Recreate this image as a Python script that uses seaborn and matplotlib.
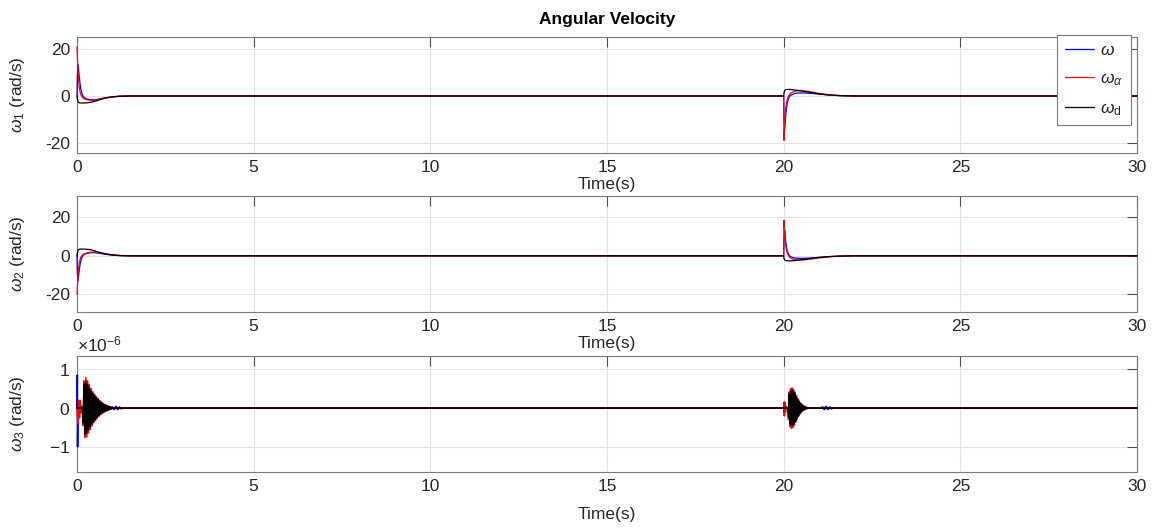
import numpy as np
import pandas as pd
import matplotlib
matplotlib.use("Agg")
import matplotlib.pyplot as plt
import seaborn as sns
from matplotlib.ticker import ScalarFormatter

# --- Data (time in s) ---

# panels 1 and 2 share one time grid
t_grid = [0, 0.01, 0.03, 0.06, 0.1, 0.15, 0.2, 0.3, 0.4, 0.5, 0.6, 0.8, 1.0, 1.2, 1.5,
          20.0, 20.01, 20.03, 20.06, 20.1, 20.15, 20.2, 20.3, 20.4, 20.6, 20.8, 21.0, 21.3, 21.6, 22.0, 30]

w1_omega = [0, 9, 13.5, 9, 3.5, 0.5, -0.7, -1.4, -1.6, -1.6, -1.4, -0.8, -0.35, -0.1, 0,
            0, -10, -14, -8, -3, -0.5, 0.3, 1.0, 1.3, 1.3, 1.1, 0.8, 0.4, 0.15, 0, 0]
w1_alpha = [21, 17, 10, 4, 0.8, -0.6, -1.2, -1.7, -1.9, -1.8, -1.5, -0.8, -0.35, -0.1, 0,
            0, -19, -12, -5, -1.5, 0.3, 1.2, 2.0, 2.3, 2.2, 1.7, 1.1, 0.5, 0.15, 0, 0]
w1_d = [0, -1.5, -2.6, -2.9, -3.0, -3.0, -3.0, -2.9, -2.7, -2.3, -1.8, -0.9, -0.4, -0.15, 0,
        0, 1.5, 2.4, 2.7, 2.8, 2.8, 2.8, 2.6, 2.4, 1.9, 1.4, 0.9, 0.4, 0.15, 0, 0]

w2_omega = [0, -9, -13, -8, -3, -0.3, 0.7, 1.4, 1.6, 1.6, 1.4, 0.8, 0.35, 0.1, 0,
            0, 10, 13, 7, 2.5, 0.3, -0.5, -1.1, -1.3, -1.3, -1.1, -0.8, -0.4, -0.15, 0, 0]
w2_alpha = [-20, -16, -10, -4, -1, 0.4, 1.0, 1.6, 1.9, 2.0, 1.8, 1.1, 0.5, 0.2, 0,
            0, 18.5, 11, 5, 1.5, -0.3, -1.2, -1.9, -2.2, -2.1, -1.6, -1.1, -0.5, -0.15, 0, 0]
w2_d = [0, 1.8, 3.0, 3.4, 3.5, 3.5, 3.5, 3.4, 3.1, 2.6, 2.0, 1.0, 0.45, 0.15, 0,
        0, -1.4, -2.2, -2.5, -2.6, -2.6, -2.6, -2.5, -2.3, -1.8, -1.3, -0.85, -0.4, -0.15, 0, 0]

# panel 3 (values in 1e-6 rad/s)
burst0_t = [0.15, 0.175, 0.2, 0.225, 0.25, 0.275, 0.3, 0.325, 0.35, 0.375, 0.4, 0.425,
            0.45, 0.475, 0.5, 0.525, 0.55, 0.575, 0.6, 0.625, 0.65, 0.675, 0.7, 0.725,
            0.75, 0.775, 0.8, 0.825, 0.85, 0.875, 0.9, 0.925, 0.95, 0.975, 1.0]
burst20_t = [20.12, 20.14, 20.16, 20.18, 20.2, 20.22, 20.24, 20.26, 20.28, 20.3, 20.32,
             20.34, 20.36, 20.38, 20.4, 20.42, 20.44, 20.46, 20.48, 20.5, 20.52, 20.54,
             20.56, 20.58, 20.6, 20.62, 20.64, 20.66, 20.68]

red_burst0 = [0.0, -0.45, 0.7, -0.76, 0.78, -0.74, 0.7, -0.64, 0.6, -0.55, 0.5, -0.46,
              0.42, -0.38, 0.35, -0.32, 0.29, -0.26, 0.24, -0.21, 0.19, -0.17, 0.15, -0.13,
              0.11, -0.10, 0.09, -0.08, 0.07, -0.06, 0.05, -0.04, 0.03, -0.02, 0.0]
blk_burst0 = [0.0, -0.38, 0.62, -0.67, 0.68, -0.65, 0.61, -0.56, 0.52, -0.48, 0.44, -0.41,
              0.38, -0.35, 0.32, -0.29, 0.27, -0.24, 0.22, -0.19, 0.17, -0.15, 0.14, -0.12,
              0.1, -0.09, 0.08, -0.07, 0.06, -0.05, 0.04, -0.035, 0.03, -0.02, 0.0]
red_burst20 = [0.0, -0.3, 0.42, -0.47, 0.5, -0.52, 0.52, -0.5, 0.47, -0.44, 0.4, -0.36,
               0.32, -0.28, 0.24, -0.21, 0.18, -0.15, 0.13, -0.11, 0.09, -0.07, 0.06,
               -0.05, 0.04, -0.03, 0.02, -0.01, 0.0]
blk_burst20 = [0.0, -0.24, 0.36, -0.41, 0.44, -0.45, 0.45, -0.43, 0.41, -0.38, 0.35, -0.32,
               0.28, -0.25, 0.21, -0.19, 0.16, -0.13, 0.11, -0.09, 0.08, -0.06, 0.05,
               -0.04, 0.03, -0.025, 0.015, -0.01, 0.0]

t3_alpha = [0, 0.03, 0.05, 0.07, 0.09, 0.11, 0.13] + burst0_t + \
           [19.99, 20.0, 20.01, 20.02, 20.03, 20.05, 20.07, 20.1] + burst20_t + [30]
w3_alpha = [0, -0.4, 0.2, -0.25, 0.2, -0.12, 0.05] + red_burst0 + \
           [0, 0, 0.15, -0.2, 0.15, -0.1, 0.05, 0] + red_burst20 + [0]
t3_d = [0] + burst0_t + [19.99] + burst20_t + [30]
w3_d = [0] + blk_burst0 + [0] + blk_burst20 + [0]
t3_omega = [0, 0.008, 0.016, 0.03, 0.95, 1.0, 1.05, 1.1, 1.15, 1.2, 1.25, 1.3,
            20.0, 20.01, 20.02, 20.03,
            21.05, 21.1, 21.15, 21.2, 21.25, 21.3, 21.35, 21.4, 30]
w3_omega = [0, 0.85, -1.0, 0, 0, 0.03, -0.04, 0.045, -0.04, 0.03, -0.02, 0,
            0, -0.12, 0.1, 0,
            0, 0.03, -0.04, 0.045, -0.04, 0.03, -0.02, 0, 0]

labels = [r"$\omega$", r"$\omega_\alpha$", r"$\omega_{\mathrm{d}}$"]
colors = ["#0000ff", "#ff0000", "#000000"]

# --- Style ---
sns.set_theme(style="white")
plt.rcParams["font.family"] = ["Liberation Sans", "DejaVu Sans"]
plt.rcParams["mathtext.fontset"] = "custom"
plt.rcParams["mathtext.rm"] = "Liberation Sans"
plt.rcParams["mathtext.it"] = "Liberation Sans:italic"
plt.rcParams["axes.unicode_minus"] = False

txt = "#262626"
spine = "#7a7a7a"

fig = plt.figure(figsize=(11.58, 5.29), dpi=100)
left, width, height = 77 / 1158, 1060 / 1158, 116 / 529
bottoms = [1 - 152.7 / 529, 1 - 311.7 / 529, 1 - 471.7 / 529]
axes = [fig.add_axes([left, b, width, height]) for b in bottoms]

panels = [
    ([t_grid, t_grid, t_grid], [w1_omega, w1_alpha, w1_d], r"$\omega_1$ (rad/s)", (-24.3, 25.4), [-20, 0, 20], 1.0, 0.9),
    ([t_grid, t_grid, t_grid], [w2_omega, w2_alpha, w2_d], r"$\omega_2$ (rad/s)", (-29.1, 31.3), [-20, 0, 20], 1.0, 0.9),
    ([t3_omega, t3_alpha, t3_d], [w3_omega, w3_alpha, w3_d], r"$\omega_3$ (rad/s)", (-1.64e-6, 1.35e-6), [-1e-6, 0, 1e-6], 1e-6, 1.2),
]

for i, (ax, (ts, ws, ylab, ylim, yt, scale, lw)) in enumerate(zip(axes, panels)):
    for t, w, c, lab in zip(ts, ws, colors, labels):
        sns.lineplot(x=np.array(t), y=np.array(w) * scale, ax=ax, color=c, lw=lw,
                     estimator=None, sort=False, label=lab, clip_on=False, zorder=3)
    ax.set_xlim(0, 30)
    ax.set_ylim(*ylim)
    ax.set_xticks(range(0, 31, 5))
    ax.set_yticks(yt)
    ax.grid(True, color="#e3e3e3", lw=0.8)
    ax.set_axisbelow(True)
    for s in ax.spines.values():
        s.set_color(spine)
        s.set_linewidth(0.8)
    ax.tick_params(direction="in", length=7.5, width=0.8, color="#4d4d4d",
                   labelcolor=txt, labelsize=12.5, top=True, right=True, pad=5)
    ax.set_xlabel("Time(s)", fontsize=12.5, color=txt)
    ax.set_ylabel(ylab, fontsize=12.5, color=txt)
    ax.yaxis.set_label_coords(-0.047, 0.5)
    ax.xaxis.set_label_coords(0.5, -0.30 if i == 2 else -0.21)
    if ax.get_legend() is not None:
        ax.get_legend().remove()

fmt = ScalarFormatter(useMathText=True)
fmt.set_powerlimits((0, 0))
axes[2].yaxis.set_major_formatter(fmt)
axes[2].yaxis.get_offset_text().set_fontsize(12.5)
axes[2].yaxis.get_offset_text().set_color(txt)

axes[0].set_title("Angular Velocity", fontsize=12.5, fontweight="bold", color="#000000", pad=9)

h, l = axes[0].get_legend_handles_labels()
leg = axes[0].legend(h, l, loc="upper right", bbox_to_anchor=(0.994, 1.015),
                     borderaxespad=0, fontsize=12.5, handlelength=1.7, handletextpad=0.35,
                     labelspacing=0.75, borderpad=0.45,
                     fancybox=False, framealpha=1, edgecolor=spine)
leg.get_frame().set_linewidth(0.8)

fig.savefig("out.png", dpi=100)
